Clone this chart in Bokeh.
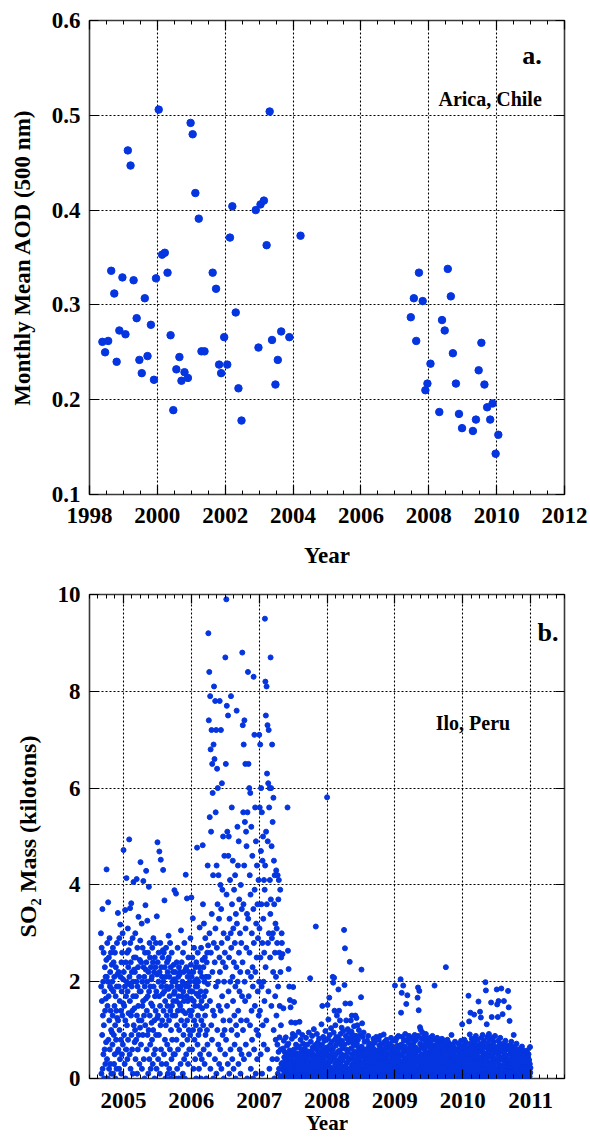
from bokeh.plotting import figure
from bokeh.models import FixedTicker, LinearAxis, Label, CustomJSTickFormatter
from bokeh.layouts import column
from bokeh.embed import file_html
from bokeh.resources import INLINE

# ---------------- Panel a: monthly mean AOD at Arica ----------------
aod_year = [
    1998.38, 1998.46, 1998.55, 1998.64, 1998.73, 1998.80, 1998.88, 1998.97,
    1999.06, 1999.13, 1999.21, 1999.30, 1999.39, 1999.47, 1999.54, 1999.63,
    1999.71, 1999.81, 1999.90, 1999.96, 2000.04, 2000.14, 2000.22, 2000.30,
    2000.39, 2000.47, 2000.56, 2000.65, 2000.71, 2000.80, 2000.90, 2000.98,
    2001.04, 2001.12, 2001.22, 2001.30, 2001.39, 2001.63, 2001.73, 2001.82,
    2001.88, 2001.97, 2002.06, 2002.14, 2002.21, 2002.31, 2002.39, 2002.48,
    2002.90, 2002.98, 2003.04, 2003.14, 2003.22, 2003.31, 2003.38, 2003.48,
    2003.55, 2003.65, 2003.89, 2004.22,
    2007.47, 2007.56, 2007.63, 2007.71, 2007.82, 2007.90, 2007.96, 2008.05,
    2008.31, 2008.39, 2008.47, 2008.56, 2008.65, 2008.71, 2008.80, 2008.89,
    2008.98, 2009.30, 2009.39, 2009.47, 2009.55, 2009.64, 2009.72, 2009.81,
    2009.88, 2009.97, 2010.05,
]
aod_value = [
    0.261, 0.250, 0.262, 0.336, 0.312, 0.240, 0.273, 0.329,
    0.269, 0.463, 0.447, 0.326, 0.286, 0.242, 0.228, 0.307,
    0.246, 0.279, 0.221, 0.328, 0.506, 0.353, 0.355, 0.334,
    0.268, 0.189, 0.232, 0.245, 0.220, 0.229, 0.223, 0.492,
    0.480, 0.418, 0.391, 0.251, 0.251, 0.334, 0.317, 0.237,
    0.228, 0.266, 0.237, 0.371, 0.404, 0.292, 0.212, 0.178,
    0.400, 0.255, 0.406, 0.410, 0.363, 0.504, 0.263, 0.216,
    0.242, 0.272, 0.266, 0.373,
    0.287, 0.307, 0.262, 0.334, 0.304, 0.210, 0.217, 0.238,
    0.187, 0.284, 0.273, 0.338, 0.309, 0.249, 0.217, 0.185,
    0.170, 0.167, 0.179, 0.231, 0.260, 0.216, 0.192, 0.179,
    0.196, 0.143, 0.163,
]
aod_xticks = [1998, 2000, 2002, 2004, 2006, 2008, 2010, 2012]
aod_yticks = [0.1, 0.2, 0.3, 0.4, 0.5, 0.6]

# ---------------- Panel b: daily SO2 mass near Ilo (kilotons) ----------------
# one string of daily values per month, in day order
so2_2004 = [  # Sep .. Dec
    "3.0 1.9 0.1 2.7 1.6 0.9 3.5 0.2 1.3 2.0 0.5 2.6 1.1 0.0 1.8 0.6 2.3 1.4 0.3 2.1 1.65 0.75 2.45",
    "4.32 2.1 0.4 2.8 1.5 0.0 2.0 3.64 0.8 1.7 2.5 0.2 1.2 2.9 0.6 1.9 2.2 0.3 1.4 2.6 1.0 0.1 1.85 2.35 0.95",
    "2.0 0.7 1.3 2.7 0.1 1.8 2.4 0.9 0.3 2.1 1.5 0.5 2.6 1.1 0.0 1.7 2.3 0.8 1.4 0.2 1.9 2.8 1.25 2.15 0.55",
    "3.42 1.2 0.6 2.2 1.9 0.2 2.9 1.0 1.6 0.4 3.18 2.1 0.8 1.4 0.1 2.4 1.8 0.5 2.6 1.3 3.0 0.7 2.05 1.55",
]
so2_2005 = [
    "4.72 2.2 0.9 1.5 2.8 0.3 1.9 3.48 1.2 0.0 2.4 1.7 0.6 4.14 2.0 1.1 2.6 0.4 1.8 3.1 0.8 2.3 1.35 2.65 1.95",
    "4.94 2.1 0.5 1.6 3.52 2.8 0.2 2.4 1.3 3.62 0.9 1.9 2.2 0.6 1.4 2.9 0.1 2.0 1.7 4.06 1.1 2.5 2.25 1.45 0.75",
    "2.2 1.0 3.0 0.4 2.5 1.7 0.8 2.0 4.12 1.3 0.1 2.7 1.9 0.6 2.3 1.5 3.34 0.9 1.2 2.1 0.3 1.8 2.45 1.05 2.85",
    "4.47 1.8 0.7 2.4 1.2 3.2 0.2 2.0 1.5 2.7 0.9 1.6 4.08 2.3 0.4 1.3 2.1 0.0 1.9 2.6 1.1 3.58 2.25 1.65",
    "4.29 2.4 0.6 1.4 2.0 3.26 0.9 1.7 2.6 0.1 2.2 1.0 3.96 1.8 0.4 2.8 1.3 2.5 0.7 1.9 0.2 2.3 1.55 2.05 1.15",
    "2.1 0.8 2.7 1.5 0.3 2.4 1.0 2.9 1.9 0.5 2.2 1.2 0.0 2.5 1.7 0.6 2.3 1.4 2.8 0.9 1.8 0.2 3.35 2.15 1.25",
    "4.88 2.4 1.3 0.4 2.0 2.6 0.9 1.7 4.69 2.2 0.1 1.5 2.8 1.1 4.52 0.6 2.3 1.9 0.3 2.1 1.2 2.5 1.75 2.65",
    "4.31 2.0 1.4 2.6 0.5 1.8 3.68 2.3 0.8 1.6 0.0 2.1 1.1 2.7 0.3 1.9 1.3 2.4 0.7 1.5 2.2 0.1 2.45 1.85 2.95",
    "2.5 1.2 0.2 2.1 1.7 0.6 2.8 1.4 0.0 2.3 1.0 1.9 0.4 2.6 1.5 0.8 2.0 1.3 0.1 2.2 1.6 0.5 2.35 1.75 2.05",
    "3.89 1.8 0.5 2.2 1.3 0.0 2.0 3.82 1.6 0.8 2.4 1.1 0.2 1.9 2.7 1.4 0.6 2.1 1.7 0.0 2.3 1.0 1.55 2.15 1.85",
    "2.2 1.5 0.3 1.9 3.06 1.2 0.0 2.4 1.7 0.7 2.0 1.4 0.1 2.6 1.8 0.9 2.2 1.6 0.4 2.8 1.1 0.0 1.95 1.35 2.25",
    "4.21 1.9 0.5 2.3 1.7 3.72 1.2 0.8 2.1 1.6 0.3 2.5 1.9 1.0 2.2 0.6 1.4 2.0 1.8 0.9 2.9 1.3 2.35 1.65",
]
so2_2006 = [
    "3.74 2.1 1.4 0.6 2.5 1.8 3.31 1.0 2.2 0.2 1.6 2.7 1.2 0.8 2.0 1.5 0.4 2.3 1.9 1.1 0.0 2.4 1.75 2.05",
    "4.77 1.9 0.7 2.6 1.3 2.0 0.9 1.7 0.2 2.3 1.5 3.12 1.0 0.5 2.2 1.8 0.0 2.7 1.2 1.6 0.4 2.1 1.45 2.45",
    "4.82 3.6 1.1 2.3 0.6 3.2 1.7 2.0 0.3 2.5 1.3 2.9 0.9 1.8 2.1 0.0 1.5 2.4 1.0 2.6 0.7 4.4 1.95 2.75",
    "9.2 2.1 7.4 0.5 8.4 3.0 5.4 1.6 7.9 0.2 6.8 2.6 5.1 1.1 7.2 3.4 0.8 6.5 2.2 5.9 1.4 4.2 0.0 6.9 2.8",
    "8.1 1.3 6.6 2.4 0.4 7.8 3.1 5.5 1.9 7.2 0.1 4.4 2.7 6.4 1.0 3.6 6.0 2.0 0.7 4.2 1.5 3.3 0.3 2.5",
    "7.8 2.2 0.6 4.0 1.4 7.2 3.5 0.2 2.8 6.1 1.7 3.9 0.9 2.4 5.0 1.2 3.0 0.0 2.0 4.6 1.0 2.6 0.5",
    "8.7 2.3 6.5 0.8 9.9 3.8 7.7 1.5 5.1 2.9 0.3 7.5 4.6 1.8 5.0 2.5 0.1 3.3 1.2 4.1 2.0 0.6 3.0",
    "7.9 2.7 1.0 5.6 3.6 0.4 2.1 4.5 1.6 3.1 0.2 2.4 3.9 1.3 0.7 2.8 4.2 1.9 0.0 3.4 1.1 2.3",
    "7.6 3.2 0.9 5.2 2.0 4.4 1.4 0.3 4.9 2.6 3.7 1.8 0.6 3.0 2.2 0.1 4.0 1.2 2.8 0.5 3.5 1.7",
    "8.8 2.4 7.3 1.0 5.5 3.6 6.9 0.4 4.4 7.4 2.0 5.3 1.6 6.5 3.1 0.7 5.1 2.7 4.8 1.2 3.4 0.0 5.5 2.2",
    "8.4 3.3 6.5 1.7 0.5 6.0 2.6 4.2 1.1 5.9 3.8 0.2 2.1 5.2 1.4 3.0 0.8 4.6 2.3 1.9 0.0 3.5",
    "8.3 2.8 0.6 7.1 3.9 1.5 5.6 2.2 0.1 4.9 3.2 1.0 2.5 4.4 0.4 3.6 1.8 2.9 0.9 4.1 1.3 2.0",
]
so2_2007 = [
    "7.1 3.1 5.6 1.4 6.9 2.5 0.5 4.7 6.0 3.6 1.9 5.5 0.1 2.8 4.5 1.1 5.0 3.3 2.0 0.7 4.1 2.6 1.6 3.9",
    "9.5 4.4 8.2 2.3 7.5 5.1 1.2 8.1 3.6 6.3 0.6 7.3 4.9 2.8 6.1 1.8 7.2 3.0 5.6 0.2 6.0 4.1 2.5 3.4",
    "8.7 3.7 6.0 1.5 4.8 2.9 6.9 0.4 5.3 3.0 2.2 5.8 1.0 4.5 3.6 0.0 4.2 2.6 1.7 3.2 0.8 2.1",
    "4.3 1.3 3.1 0.4 2.8 0.7 4.2 0.1 1.9 3.7 0.55 4.1 0.2 2.6 0.85 1.5 0.0 3.9 2.2 0.6 1.1 2.5 0.3 3.0",
    "2.8 0.32 0.05 2.57 0.18 0.0 0.62 1.45 0.25 0.78 0.02 0.44 0.12 0.55 0.0 0.28 0.38 0.08 0.85 0.21 0.14 0.5 0.03 0.36 0.68 0.1",
    "5.6 0.4 2.64 0.1 0.72 2.26 0.0 0.3 1.9 0.16 0.58 1.62 0.05 0.48 1.47 0.22 0.04 1.16 0.12 0.38 0.82 0.0 0.26 0.07 0.92 0.52",
    "1.89 0.35 0.04 0.6 1.58 0.22 0.46 0.0 0.88 0.15 1.15 0.3 0.08 0.7 0.19 0.0 0.52 0.11 0.26 0.4 0.03 0.64 0.14 0.33 0.02 0.96",
    "0.42 0.1 0.66 1.17 0.0 0.24 0.5 0.06 0.8 0.02 0.34 0.15 0.58 0.0 0.2 0.44 0.9 0.12 0.3 0.03 0.72 0.18 0.38 0.07 0.54 0.26",
    "0.3 0.62 0.06 0.45 0.0 0.52 0.18 0.84 0.27 0.1 0.4 0.14 0.0 0.7 0.33 0.04 0.56 0.02 0.22 0.12 0.95 0.36 0.08 0.48 0.2 0.0",
    "2.07 0.48 0.12 0.76 0.26 0.0 0.56 0.34 0.05 0.88 0.16 0.64 0.4 0.0 0.21 0.5 0.09 1.02 0.3 0.44 0.04 0.13 0.18 0.69 0.02 0.37",
    "3.14 0.35 0.08 0.6 0.2 0.92 0.0 0.45 0.14 0.74 0.28 0.02 0.52 0.38 0.11 0.82 0.06 0.24 0.0 0.66 0.17 0.42 0.04 0.3 0.56 0.1",
    "1.12 0.4 0.06 0.7 1.5 0.18 0.5 0.0 0.86 0.29 0.1 0.6 0.36 0.02 0.78 0.22 0.46 0.13 0.98 0.32 0.04 0.55 0.25 0.08 0.64 0.0",
]
so2_2008 = [
    "5.81 0.5 1.52 0.12 0.82 0.27 1.22 0.0 0.6 0.4 1.67 0.08 0.9 0.34 0.16 0.7 0.02 0.48 1.04 0.22 0.1 0.76 0.38 0.56 0.05 0.2",
    "2.1 0.62 1.98 0.2 0.95 0.04 2.08 0.44 1.4 0.12 0.8 0.3 1.1 0.0 0.68 0.5 0.24 0.86 0.06 1.3 0.36 0.15 0.74 0.55 0.01 0.28",
    "1.84 0.3 0.82 1.4 0.08 0.58 0.2 1.2 0.42 0.0 0.92 0.33 0.7 0.14 0.5 1.05 0.02 0.78 0.24 0.62 0.38 0.1 0.98 0.46 0.05 0.18",
    "3.07 0.7 1.93 0.1 2.69 0.48 1.55 0.26 0.88 0.04 1.2 0.6 0.32 0.0 0.82 0.44 0.15 1.02 0.54 0.2 0.74 0.07 0.38 0.95 0.12 0.02",
    "2.41 0.4 1.55 0.84 0.12 1.2 0.62 0.0 0.97 0.28 1.3 0.5 0.06 0.76 0.2 0.9 0.42 0.1 0.68 0.32 1.08 0.16 0.56 0.02 0.8 0.24",
    "1.3 0.52 0.1 0.88 0.36 1.25 0.0 0.72 0.2 1.1 0.46 0.06 0.8 0.28 0.64 0.14 1.0 0.4 0.02 0.58 0.24 0.17 0.9 0.08 0.33 0.5",
    "1.68 0.32 2.25 0.66 0.05 1.14 0.46 0.18 0.86 0.0 0.58 0.34 0.95 0.1 0.52 0.22 0.76 0.02 0.42 0.27 0.14 0.6 0.08 0.38 0.04 0.2",
    "0.42 0.08 0.78 0.28 0.0 0.6 0.16 0.88 0.48 0.04 0.68 0.24 0.54 0.12 0.35 0.02 0.0 0.62 0.2 0.44 0.1 0.72 0.3 0.06 0.5 0.14",
    "0.66 0.2 0.02 0.52 0.34 0.82 0.1 0.44 0.0 0.6 0.26 0.74 0.15 0.48 0.06 0.38 0.04 0.18 0.86 0.3 0.0 0.56 0.11 0.4 0.23 0.08",
    "0.3 0.58 0.05 0.8 0.38 0.15 0.68 0.0 0.5 0.24 0.88 0.1 0.44 0.62 0.19 0.02 0.72 0.34 0.12 0.08 0.54 0.27 0.46 0.14 0.0 0.4",
    "0.91 0.32 0.08 0.58 0.2 0.76 0.0 0.44 0.13 0.66 0.28 0.04 0.52 0.8 0.22 0.38 0.1 0.62 0.0 0.48 0.16 0.06 0.35 0.02 0.26 0.7",
    "0.5 0.12 0.72 0.26 0.0 0.6 0.38 0.06 0.84 0.2 0.52 0.3 0.02 0.66 0.42 0.15 0.78 0.0 0.34 0.56 0.1 0.46 0.22 0.04 0.18 0.08",
]
so2_2009 = [
    "1.92 0.42 0.08 0.78 0.28 0.6 0.0 0.5 0.16 0.84 0.34 0.1 0.68 0.22 0.02 0.55 0.88 0.38 0.13 0.64 0.26 0.0 0.46 0.06 0.3 0.19",
    "2.05 0.3 1.36 0.7 0.06 1.77 0.48 0.2 0.86 0.0 0.62 0.36 1.92 0.12 0.54 0.78 0.24 0.02 0.66 0.42 0.16 0.92 0.32 0.58 0.08 0.04",
    "1.54 0.4 0.1 0.8 0.27 1.72 0.58 0.0 0.48 0.18 0.74 0.34 0.04 0.88 0.44 0.21 0.65 0.0 0.52 0.14 0.82 0.3 0.07 0.6 0.12 0.38",
    "0.62 0.2 0.04 0.84 0.42 0.7 0.1 0.52 0.28 0.0 0.76 0.36 0.15 0.9 0.48 0.24 0.06 0.64 0.32 0.8 0.0 0.56 0.12 0.44 0.02 0.18",
    "1.67 0.34 1.88 0.88 0.08 1.41 0.58 0.2 1.81 0.46 0.0 1.06 0.72 0.27 1.01 0.14 0.64 0.38 0.02 0.82 0.5 0.17 0.95 0.3 0.06 0.11",
    "0.68 0.24 0.02 0.86 0.44 0.12 0.6 0.34 0.0 0.78 0.5 0.16 0.92 0.28 0.06 0.66 0.38 0.2 0.74 0.54 0.0 0.42 0.1 0.82 0.3 0.04",
    "0.4 0.1 0.72 0.26 0.0 0.84 0.5 0.15 0.62 0.32 0.04 0.78 0.44 0.21 0.56 0.0 0.88 0.36 0.12 0.68 0.24 0.48 0.06 0.6 0.18 0.02",
    "1.92 0.3 0.64 0.08 0.8 0.42 0.18 0.56 0.0 0.7 0.34 0.12 0.84 0.48 0.23 0.02 0.62 0.38 0.14 0.76 0.27 0.52 0.0 0.44 0.06 0.2",
    "0.54 0.18 0.74 0.02 0.4 0.28 0.66 0.1 0.82 0.34 0.0 0.58 0.21 0.46 0.08 0.7 0.25 0.48 0.0 0.78 0.14 0.36 0.62 0.04 0.12 0.3",
    "2.3 0.42 0.06 0.68 0.22 0.56 0.0 0.8 0.3 0.14 0.62 0.38 0.02 0.74 0.48 0.19 0.64 0.1 0.34 0.0 0.52 0.26 0.7 0.08 0.16 0.44",
    "0.9 0.26 0.58 0.04 0.42 0.16 0.7 0.32 0.0 0.5 0.1 0.64 0.28 0.02 0.56 0.2 0.76 0.38 0.06 0.46 0.12 0.6 0.0 0.34 0.22 0.08",
    "0.34 0.08 0.6 0.2 0.0 0.46 0.72 0.14 0.38 0.54 0.02 0.26 0.66 0.1 0.42 0.0 0.58 0.23 0.78 0.06 0.32 0.5 0.16 1.12 0.04 0.12",
]
so2_2010 = [
    "0.44 0.12 0.68 0.28 0.0 0.54 0.2 0.8 0.04 0.38 0.62 0.16 0.48 0.0 0.32 0.74 0.08 0.58 0.24 0.42 0.02 0.64 0.21 0.5 0.1 0.06",
    "1.71 0.36 0.08 1.18 0.6 0.2 0.91 0.0 0.48 1.36 0.27 0.72 0.12 0.54 0.02 0.82 0.4 0.15 0.66 0.3 0.06 0.58 0.23 0.78 0.1 0.44",
    "1.32 0.48 0.14 0.76 0.34 0.02 0.62 0.25 0.88 0.42 0.0 0.68 0.18 0.54 0.08 0.8 0.3 0.46 0.0 0.64 1.59 0.22 0.38 0.1 0.05 0.58",
    "0.56 1.38 0.2 0.72 0.04 1.26 0.42 0.12 0.84 0.3 0.0 0.6 0.25 0.9 0.08 0.48 0.16 0.68 0.36 0.0 0.78 0.27 0.52 0.1 0.02 0.4",
    "1.99 0.4 1.82 0.06 0.64 0.23 1.12 0.0 0.5 0.86 0.14 0.34 0.72 0.02 0.58 0.28 0.92 0.1 0.44 0.19 0.8 0.0 0.54 0.32 0.66 0.08",
    "1.57 0.3 0.68 1.27 0.08 0.48 0.18 0.84 0.36 0.0 0.6 0.24 0.76 0.12 0.42 0.02 0.66 0.32 0.88 0.16 0.52 0.0 0.38 0.2 0.56 0.05",
    "1.84 0.34 1.53 0.1 0.62 1.27 0.22 0.78 1.6 0.04 0.46 0.28 0.7 0.0 0.54 0.16 0.84 0.38 0.06 0.58 0.25 1.86 0.42 0.14 0.66 0.02",
    "0.58 1.33 0.18 0.72 0.02 0.44 0.28 1.6 0.0 0.52 0.12 0.66 0.34 0.08 0.78 0.23 0.48 0.0 0.6 0.15 0.4 0.68 0.04 0.26 0.1 0.36",
    "1.81 0.26 0.6 1.47 0.04 0.38 0.18 1.19 0.5 0.0 0.68 0.3 0.1 0.56 0.21 0.76 0.0 0.42 0.14 0.64 0.33 0.06 0.48 0.2 0.12 0.02",
    "0.9 0.3 0.06 0.54 0.18 0.66 0.0 0.4 0.23 0.6 0.1 0.46 0.02 0.72 0.27 0.14 0.5 0.35 0.0 0.58 0.2 0.42 0.08 0.3 0.12 0.04",
    "0.4 0.12 0.56 0.0 0.28 0.62 0.19 0.44 0.04 0.52 0.25 0.0 0.66 0.16 0.34 0.08 0.48 0.22 0.58 0.02 0.4 0.27 0.1 0.32 0.06 0.14",
    "0.24 0.48 0.06 0.34 0.0 0.54 0.14 0.4 0.2 0.02 0.58 0.28 0.1 0.44 0.0 0.32 0.5 0.08 0.26 0.38 0.16 0.04 0.3 0.65 0.12 0.22",
]
so2_xticks = [2005, 2006, 2007, 2008, 2009, 2010, 2011]
so2_yticks = [0, 2, 4, 6, 8, 10]

# (year, first month, monthly strings)
so2_blocks = [
    (2004, 9, so2_2004), (2005, 1, so2_2005), (2006, 1, so2_2006),
    (2007, 1, so2_2007), (2008, 1, so2_2008), (2009, 1, so2_2009),
    (2010, 1, so2_2010),
]


def daily_points(blocks):
    """Spread each month's daily values across that month (decimal years)."""
    xs, ys = [], []
    for year, first_month, months in blocks:
        for k, row in enumerate(months):
            vals = [float(v) for v in row.split()]
            n = len(vals)
            m = first_month - 1 + k
            for i, v in enumerate(vals):
                xs.append(year + (m + (i + 0.5) / n) / 12.0)
                ys.append(v)
    return xs, ys


so2_x, so2_y = daily_points(so2_blocks)

FONT = "Liberation Serif"
BLUE = "#0535e0"
BLANK = CustomJSTickFormatter(code="return ''")


def frame_style(p, xt, xminor, yt, ylabel, ylabel_size, x_std, year_size, year_std):
    xtick = FixedTicker(ticks=xt, minor_ticks=xminor)
    ytick = FixedTicker(ticks=yt, minor_ticks=[])
    xax, yax = p.xaxis[0], p.yaxis[0]
    for ax, tk in ((xax, xtick), (yax, ytick)):
        ax.ticker = tk
        ax.axis_line_color = None
        ax.major_tick_in = 9
        ax.major_tick_out = 0
        ax.minor_tick_in = 4
        ax.minor_tick_out = 0
        ax.major_tick_line_color = "black"
        ax.minor_tick_line_color = "black"
        ax.major_tick_line_width = 1.2
        ax.major_label_text_font = FONT
        ax.major_label_text_font_style = "bold"
        ax.major_label_text_font_size = "23px"
        ax.major_label_text_color = "black"
        ax.axis_label_text_font = FONT
        ax.axis_label_text_font_style = "bold"
        ax.axis_label_text_color = "black"
    xax.major_label_standoff = x_std
    xax.axis_label = "Year"
    xax.axis_label_text_font_size = year_size
    xax.axis_label_standoff = year_std
    yax.major_label_standoff = 9
    yax.axis_label = ylabel
    yax.axis_label_text_font_size = ylabel_size
    yax.axis_label_standoff = 14

    # mirrored ticks on the top and right edges, without labels
    top = LinearAxis(ticker=FixedTicker(ticks=xt, minor_ticks=xminor), formatter=BLANK)
    right = LinearAxis(ticker=FixedTicker(ticks=yt, minor_ticks=[]), formatter=BLANK)
    for ax in (top, right):
        ax.axis_line_color = None
        ax.major_tick_in = 9
        ax.major_tick_out = 0
        ax.minor_tick_in = 4
        ax.minor_tick_out = 0
        ax.major_tick_line_width = 1.2
        ax.major_label_text_font_size = "8px"
        ax.major_label_standoff = 0
    p.add_layout(top, "above")
    p.add_layout(right, "right")

    for g, tk in ((p.xgrid[0], xt), (p.ygrid[0], yt)):
        g.ticker = FixedTicker(ticks=tk)
        g.grid_line_color = "black"
        g.grid_line_dash = "2 2"
        g.grid_line_width = 1.1
    p.outline_line_color = "#3a3a3a"
    p.outline_line_width = 1.6
    p.background_fill_color = "white"
    p.border_fill_color = "white"


def tag(p, x, y, text, size):
    p.add_layout(Label(x=x, y=y, text=text, text_align="right",
                       text_baseline="alphabetic", text_font=FONT,
                       text_font_style="bold", text_font_size=size,
                       text_color="black"))


# ---- panel a ----
pa = figure(width=590, height=575, x_range=(1998, 2012), y_range=(0.1, 0.6),
            min_border_left=89, min_border_right=26, min_border_top=20,
            min_border_bottom=81, toolbar_location=None, output_backend="svg")
frame_style(pa, aod_xticks, [1998 + 0.5 * i for i in range(29)], aod_yticks,
            "Monthly Mean AOD (500 nm)", "23px", 13, "23px", 17)
pa.scatter(aod_year, aod_value, size=7.5, color=BLUE, line_color=BLUE)
tag(pa, 2011.33, 0.563, "a.", "26px")
tag(pa, 2011.33, 0.517, "Arica, Chile", "20px")

# ---- panel b ----
pb = figure(width=590, height=567, x_range=(2004.5, 2011.5), y_range=(0, 10),
            min_border_left=80, min_border_right=25, min_border_top=19,
            min_border_bottom=64, toolbar_location=None, output_backend="svg")
frame_style(pb, so2_xticks, [2004.5 + 0.125 * i for i in range(57)], so2_yticks,
            "SO\u2082 Mass (kilotons)", "24px", 14, "21px", 0)
pb.scatter(so2_x, so2_y, size=5, color=BLUE, line_color=BLUE)
tag(pb, 2011.41, 9.21, "b.", "26px")
tag(pb, 2010.70, 7.35, "Ilo, Peru", "20px")

layout = column(pa, pb, spacing=0)
open("out.html", "w").write(file_html(layout, INLINE))
